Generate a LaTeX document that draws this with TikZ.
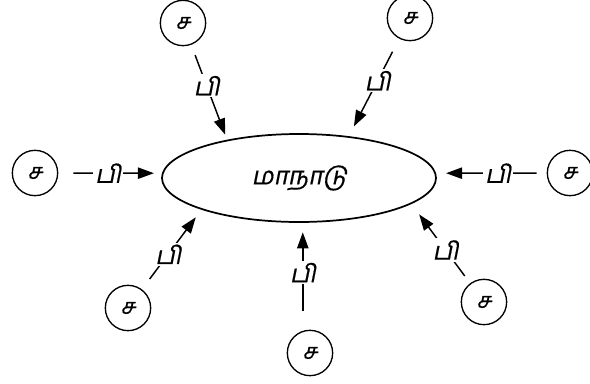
\documentclass[tikz,border=0pt]{standalone}
\usepackage{fontspec}
\newfontfamily\tamil[Script=Tamil,FakeSlant=0.2,FakeBold=0.6]{Hind Madurai}
\usetikzlibrary{arrows.meta,shapes.geometric}
\begin{document}
\begin{tikzpicture}[x=0.75pt,y=-0.75pt,
  src/.style={circle,draw,line width=1pt,minimum size=34pt,inner sep=0pt,font=\tamil\fontsize{16}{16}\selectfont},
  conf/.style={ellipse,draw,line width=1.3pt,minimum width=205.5pt,minimum height=66pt,inner sep=0pt,font=\tamil\fontsize{18.5}{18.5}\selectfont},
  lbl/.style={fill=white,inner sep=1.5pt,font=\tamil\fontsize{18.5}{18.5}\selectfont},
  link/.style={line width=1.1pt,-{Triangle[length=12pt,width=8.5pt]}}
]
\useasboundingbox (0,0) rectangle (590,383);
\node[conf] (E) at (299,178) {மாநாடு};
\node[src] (tl) at (183,23) {ச};
\node[src] (tr) at (410,18) {ச};
\node[src] (l) at (35,173) {ச};
\node[src] (r) at (570,173) {ச};
\node[src] (bl) at (128,308) {ச};
\node[src] (b) at (310,353) {ச};
\node[src] (br) at (484,302) {ச};
\draw[link,shorten <=8.25pt,shorten >=4.1pt] (tl) -- node[lbl,pos=0.43]{பி} (E.152);
\draw[link,shorten <=11pt,shorten >=8.25pt] (tr) -- node[lbl,pos=0.43]{பி} (E.40);
\draw[link,shorten <=11.25pt,shorten >=6pt] (l) -- node[lbl,pos=0.48]{பி} (E.178);
\draw[link,shorten <=7.5pt,shorten >=7.5pt] (r) -- node[lbl,pos=0.44]{பி} (E.2);
\draw[link,shorten <=9.6pt,shorten >=7.1pt] (bl) -- node[lbl,pos=0.44]{பி} (E.198);
\draw[link,shorten <=15pt,shorten >=7.1pt] (b.108) -- node[lbl,pos=0.54]{பி} (b.108 |- E.south);
\draw[link,shorten <=6.75pt,shorten >=9.75pt] (br) -- node[lbl,pos=0.42]{பி} (E.-13);
\end{tikzpicture}
\end{document}
